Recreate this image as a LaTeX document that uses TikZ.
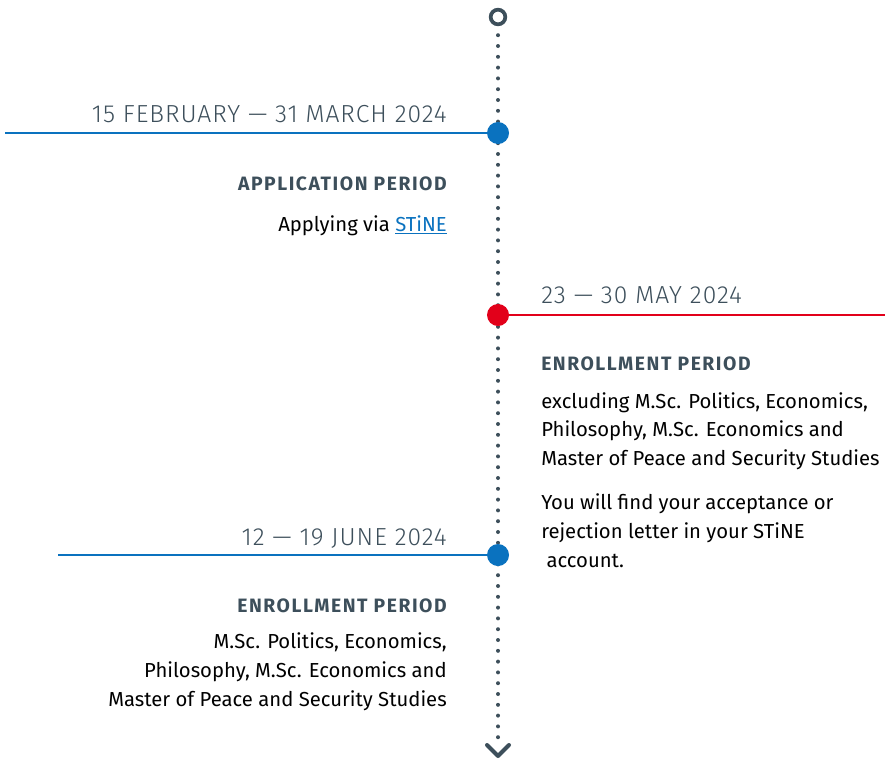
\documentclass[tikz,border=0pt]{standalone}
\usepackage{fontspec}
\setmainfont{Fira Sans}
\newfontfamily\datefont{Fira Sans Light}
\usetikzlibrary{positioning}
\definecolor{slate}{HTML}{3D4F5B}
\definecolor{tlblue}{HTML}{0A72BF}
\definecolor{tlred}{HTML}{E2001A}
\tikzset{
  datelabel/.style={inner sep=0pt, text=slate,
    font=\datefont\fontsize{18.5}{22}\selectfont\addfontfeature{LetterSpace=4}},
  periodlabel/.style={inner sep=0pt, text=slate,
    font=\bfseries\fontsize{14.5}{17}\selectfont\addfontfeature{LetterSpace=8}},
  bodytext/.style={inner sep=0pt, text=black,
    font=\fontsize{15.2}{21.4}\selectfont},
  rule/.style={line width=2.2pt},
  milestone/.style={circle, inner sep=0pt, minimum size=16.5pt}
}
\begin{document}
\begin{tikzpicture}[x=0.75pt, y=-0.75pt]
    \useasboundingbox (0,0) rectangle (887,761);

    % Axis: open start, dotted spine, chevron end
    \node[circle, draw=slate, line width=2.8pt, minimum size=11pt, inner sep=0pt] (axistop) at (498,17) {};
    \coordinate (axisend) at (498,742);
    \draw[slate, line width=3pt, line cap=round, dash pattern=on 0pt off 8.1pt]
        (axistop.south) ++(0,9) -- (axisend);
    \coordinate (chevleft) at (487,745);
    \coordinate (chevtip) at (498,756);
    \coordinate (chevright) at (509,745);
    \draw[slate, line width=3pt, line cap=round, line join=round]
        (chevleft) -- (chevtip) -- (chevright);

    % Application period
    \node[milestone, fill=tlblue] (appdot) at (498,133) {};
    \coordinate (append) at (5,133);
    \draw[rule, tlblue] (appdot.center) -- (append);
    \node[datelabel, anchor=base east] (appdate) at (447,122) {15 FEBRUARY — 31 MARCH 2024};
    \node[periodlabel, anchor=base east] (apphead) at (447,190) {APPLICATION PERIOD};
    \node[bodytext, anchor=base east] (apptext) at (447,231)
        {Applying via \textcolor{tlblue}{\underline{STiNE}}};

    % Enrollment period (excluding)
    \node[milestone, fill=tlred] (enroldot) at (498,315) {};
    \coordinate (enrolend) at (885,315);
    \draw[rule, tlred] (enroldot.center) -- (enrolend);
    \node[datelabel, anchor=base west] (enroldate) at (541,303) {23 — 30 MAY 2024};
    \node[periodlabel, anchor=base west] (enrolhead) at (541,370) {ENROLLMENT PERIOD};
    \node[bodytext, anchor=base west, align=left] (enroltext) at (541,567)
        {excluding M.Sc. Politics, Economics,\\
         Philosophy, M.Sc. Economics and\\
         Master of Peace and Security Studies\\[12pt]
         You will find your acceptance or\\
         rejection letter in your STiNE\\
         \ account.};

    % Enrollment period (PPE, Economics, Peace)
    \node[milestone, fill=tlblue] (lastdot) at (498,555) {};
    \coordinate (lastend) at (58,555);
    \draw[rule, tlblue] (lastdot.center) -- (lastend);
    \node[datelabel, anchor=base east] (lastdate) at (447,545) {12 — 19 JUNE 2024};
    \node[periodlabel, anchor=base east] (lasthead) at (447,612) {ENROLLMENT PERIOD};
    \node[bodytext, anchor=base east, align=right] (lasttext) at (447,706)
        {M.Sc. Politics, Economics,\\
         Philosophy, M.Sc. Economics and\\
         Master of Peace and Security Studies};
\end{tikzpicture}
\end{document}
